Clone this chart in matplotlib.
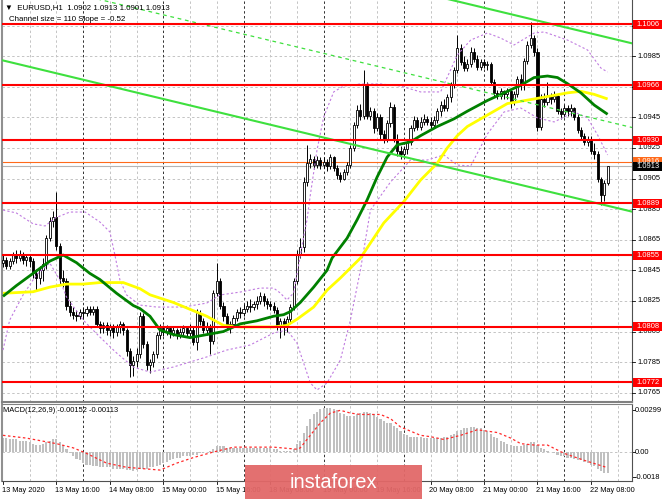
import matplotlib

matplotlib.use("Agg")
import matplotlib.pyplot as plt
import numpy as np
from matplotlib.patches import Rectangle
from matplotlib.transforms import blended_transform_factory

plt.rcParams["font.family"] = ["Liberation Sans", "DejaVu Sans"]

W, H = 665, 499

# EURUSD H1 candles, bar 0 = 13 May 00:00, bar 181 = 22 May 13:00
opens = [
    1.0850, 1.0852, 1.0848, 1.0851, 1.0855, 1.0853, 1.0856, 1.0852, 1.0854, 1.0851,
    1.0843, 1.0840, 1.0845, 1.0849, 1.0866, 1.0877, 1.0880, 1.0861, 1.0840, 1.0838,
    1.0822, 1.0818, 1.0816, 1.0815, 1.0818, 1.0817, 1.0820, 1.0818, 1.0820, 1.0810,
    1.0807, 1.0809, 1.0806, 1.0808, 1.0805, 1.0808, 1.0810, 1.0806, 1.0792, 1.0783,
    1.0786, 1.0790, 1.0815, 1.0797, 1.0783, 1.0785, 1.0790, 1.0803, 1.0807, 1.0805,
    1.0807, 1.0804, 1.0806, 1.0803, 1.0805, 1.0807, 1.0804, 1.0806, 1.0798, 1.0817,
    1.0812, 1.0806, 1.0808, 1.0799, 1.0830, 1.0838, 1.0822, 1.0815, 1.0808, 1.0810,
    1.0814, 1.0818, 1.0817, 1.0820, 1.0822, 1.0821, 1.0823, 1.0825, 1.0828, 1.0825,
    1.0823, 1.0822, 1.0819, 1.0809, 1.0812, 1.0808, 1.0813, 1.0821, 1.0838, 1.0856,
    1.0860, 1.0903, 1.0915, 1.0918, 1.0914, 1.0917, 1.0914, 1.0916, 1.0913, 1.0919,
    1.0912, 1.0907, 1.0905, 1.0909, 1.0914, 1.0925, 1.0940, 1.0950, 1.0946, 1.0966,
    1.0946, 1.0949, 1.0938, 1.0945, 1.0934, 1.0931, 1.0941, 1.0952, 1.0931, 1.0923,
    1.0921, 1.0924, 1.0929, 1.0938, 1.0943, 1.0939, 1.0942, 1.0944, 1.0942, 1.0940,
    1.0943, 1.0949, 1.0953, 1.0951, 1.0958, 1.0966, 1.0976, 1.0990, 1.0981, 1.0977,
    1.0980, 1.0988, 1.0983, 1.0978, 1.0981, 1.0979, 1.0980, 1.0968, 1.0961, 1.0959,
    1.0962, 1.0960, 1.0962, 1.0955, 1.0960, 1.0970, 1.0966, 1.0982, 1.0992, 1.0997,
    1.0988, 1.0939, 1.0957, 1.0955, 1.0959, 1.0957, 1.0959, 1.0949, 1.0947, 1.0951,
    1.0949, 1.0951, 1.0945, 1.0937, 1.0933, 1.0929, 1.0931, 1.0923, 1.0921, 1.0905,
    1.0894, 1.0902,
]
highs = [
    1.0855, 1.0854, 1.0853, 1.0857, 1.0858, 1.0858, 1.0857, 1.0856, 1.0856, 1.0853,
    1.0846, 1.0848, 1.0853, 1.0868, 1.0880, 1.0884, 1.0896, 1.0863, 1.0845, 1.0840,
    1.0825, 1.0821, 1.0819, 1.0820, 1.0821, 1.0822, 1.0822, 1.0822, 1.0822, 1.0812,
    1.0811, 1.0811, 1.0810, 1.0810, 1.0810, 1.0812, 1.0811, 1.0807, 1.0794, 1.0789,
    1.0794, 1.0818, 1.0817, 1.0799, 1.0787, 1.0792, 1.0805, 1.0810, 1.0809, 1.0809,
    1.0808, 1.0808, 1.0807, 1.0807, 1.0809, 1.0808, 1.0810, 1.0808, 1.0820, 1.0819,
    1.0814, 1.0811, 1.0810, 1.0832, 1.0850, 1.0840, 1.0824, 1.0817, 1.0812, 1.0816,
    1.0820, 1.0821, 1.0823, 1.0825, 1.0826, 1.0825, 1.0828, 1.0831, 1.0830, 1.0827,
    1.0825, 1.0824, 1.0821, 1.0814, 1.0814, 1.0815, 1.0823, 1.0840, 1.0858, 1.0866,
    1.0906, 1.0927, 1.0921, 1.0920, 1.0920, 1.0919, 1.0919, 1.0918, 1.0921, 1.0920,
    1.0914, 1.0909, 1.0911, 1.0916, 1.0927, 1.0942, 1.0953, 1.0954, 1.0976, 1.0968,
    1.0952, 1.0951, 1.0948, 1.0947, 1.0937, 1.0943, 1.0955, 1.0954, 1.0934, 1.0926,
    1.0926, 1.0931, 1.0940, 1.0946, 1.0945, 1.0945, 1.0947, 1.0946, 1.0945, 1.0946,
    1.0951, 1.0956, 1.0957, 1.0960, 1.0968, 1.0978, 1.0999, 1.0993, 1.0985, 1.0983,
    1.0991, 1.0990, 1.0986, 1.0983, 1.0983, 1.0982, 1.0981, 1.0970, 1.0963, 1.0964,
    1.0963, 1.0964, 1.0963, 1.0962, 1.0972, 1.0973, 1.0984, 1.0995, 1.1007, 1.0999,
    1.0990, 1.0960, 1.0961, 1.0968, 1.0961, 1.0962, 1.0960, 1.0951, 1.0953, 1.0953,
    1.0954, 1.0952, 1.0947, 1.0939, 1.0935, 1.0933, 1.0933, 1.0928, 1.0923, 1.0906,
    1.0904, 1.0913,
]
lows = [
    1.0847, 1.0846, 1.0846, 1.0849, 1.0850, 1.0851, 1.0849, 1.0848, 1.0847, 1.0840,
    1.0832, 1.0836, 1.0838, 1.0846, 1.0864, 1.0873, 1.0858, 1.0836, 1.0834, 1.0819,
    1.0815, 1.0813, 1.0812, 1.0813, 1.0814, 1.0815, 1.0816, 1.0816, 1.0808, 1.0804,
    1.0804, 1.0803, 1.0802, 1.0801, 1.0802, 1.0804, 1.0803, 1.0789, 1.0775, 1.0776,
    1.0782, 1.0788, 1.0794, 1.0780, 1.0778, 1.0782, 1.0788, 1.0800, 1.0802, 1.0803,
    1.0801, 1.0802, 1.0800, 1.0801, 1.0803, 1.0802, 1.0802, 1.0796, 1.0793, 1.0809,
    1.0804, 1.0803, 1.0790, 1.0797, 1.0828, 1.0820, 1.0812, 1.0806, 1.0804, 1.0808,
    1.0812, 1.0814, 1.0815, 1.0818, 1.0818, 1.0819, 1.0820, 1.0823, 1.0822, 1.0820,
    1.0819, 1.0817, 1.0806, 1.0801, 1.0803, 1.0805, 1.0811, 1.0819, 1.0836, 1.0853,
    1.0857, 1.0900, 1.0912, 1.0911, 1.0912, 1.0911, 1.0912, 1.0910, 1.0911, 1.0910,
    1.0905, 1.0903, 1.0904, 1.0907, 1.0912, 1.0923, 1.0938, 1.0943, 1.0944, 1.0944,
    1.0943, 1.0935, 1.0936, 1.0931, 1.0928, 1.0929, 1.0939, 1.0929, 1.0920, 1.0918,
    1.0919, 1.0921, 1.0927, 1.0936, 1.0937, 1.0937, 1.0940, 1.0940, 1.0938, 1.0938,
    1.0941, 1.0946, 1.0949, 1.0949, 1.0955, 1.0964, 1.0974, 1.0979, 1.0975, 1.0975,
    1.0978, 1.0981, 1.0976, 1.0976, 1.0977, 1.0976, 1.0966, 1.0959, 1.0957, 1.0957,
    1.0957, 1.0957, 1.0951, 1.0953, 1.0958, 1.0963, 1.0963, 1.0980, 1.0990, 1.0985,
    1.0936, 1.0937, 1.0952, 1.0953, 1.0954, 1.0955, 1.0947, 1.0944, 1.0945, 1.0946,
    1.0946, 1.0943, 1.0935, 1.0930, 1.0927, 1.0926, 1.0921, 1.0918, 1.0903, 1.0888,
    1.0890, 1.0901,
]
closes = [
    1.0852, 1.0848, 1.0851, 1.0855, 1.0853, 1.0856, 1.0852, 1.0854, 1.0851, 1.0843,
    1.0840, 1.0845, 1.0849, 1.0866, 1.0877, 1.0880, 1.0861, 1.0840, 1.0838, 1.0822,
    1.0818, 1.0816, 1.0815, 1.0818, 1.0817, 1.0820, 1.0818, 1.0820, 1.0810, 1.0807,
    1.0809, 1.0806, 1.0808, 1.0805, 1.0808, 1.0810, 1.0806, 1.0792, 1.0783, 1.0786,
    1.0790, 1.0815, 1.0797, 1.0783, 1.0785, 1.0790, 1.0803, 1.0807, 1.0805, 1.0807,
    1.0804, 1.0806, 1.0803, 1.0805, 1.0807, 1.0804, 1.0806, 1.0798, 1.0817, 1.0812,
    1.0806, 1.0808, 1.0799, 1.0830, 1.0838, 1.0822, 1.0815, 1.0808, 1.0810, 1.0814,
    1.0818, 1.0817, 1.0820, 1.0822, 1.0821, 1.0823, 1.0825, 1.0828, 1.0825, 1.0823,
    1.0822, 1.0819, 1.0809, 1.0812, 1.0808, 1.0813, 1.0821, 1.0838, 1.0856, 1.0860,
    1.0903, 1.0915, 1.0918, 1.0914, 1.0917, 1.0914, 1.0916, 1.0913, 1.0919, 1.0912,
    1.0907, 1.0905, 1.0909, 1.0914, 1.0925, 1.0940, 1.0950, 1.0946, 1.0966, 1.0946,
    1.0949, 1.0938, 1.0945, 1.0934, 1.0931, 1.0941, 1.0952, 1.0931, 1.0923, 1.0921,
    1.0924, 1.0929, 1.0938, 1.0943, 1.0939, 1.0942, 1.0944, 1.0942, 1.0940, 1.0943,
    1.0949, 1.0953, 1.0951, 1.0958, 1.0966, 1.0976, 1.0990, 1.0981, 1.0977, 1.0980,
    1.0988, 1.0983, 1.0978, 1.0981, 1.0979, 1.0980, 1.0968, 1.0961, 1.0959, 1.0962,
    1.0960, 1.0962, 1.0955, 1.0960, 1.0970, 1.0966, 1.0982, 1.0992, 1.0997, 1.0988,
    1.0939, 1.0957, 1.0955, 1.0959, 1.0957, 1.0959, 1.0949, 1.0947, 1.0951, 1.0949,
    1.0951, 1.0945, 1.0937, 1.0933, 1.0929, 1.0931, 1.0923, 1.0921, 1.0905, 1.0894,
    1.0902, 1.0913,
]

# moving averages (bar index, price)
green_ma_i = [0, 4, 9, 14, 18, 22, 26, 29, 34, 39, 41, 44, 47, 51, 56, 61, 66, 71,
              76, 81, 84, 86, 89, 93, 97, 98.5, 103, 106, 109, 112, 115, 118, 122,
              125, 130, 135, 139, 145, 151, 155, 159, 163, 166, 169, 173, 177, 181]
green_ma = [1.0828, 1.0835, 1.0843, 1.0851, 1.0855, 1.0850, 1.0843, 1.0839, 1.0830,
            1.0822, 1.0820, 1.0815, 1.0806, 1.0803, 1.0801, 1.0803, 1.0805, 1.0810,
            1.0812, 1.0815, 1.0816, 1.0818, 1.0824, 1.0834, 1.0845, 1.0853, 1.0866,
            1.0878, 1.0891, 1.0906, 1.0919, 1.0927, 1.0929, 1.0933, 1.0939, 1.0944,
            1.0949, 1.0956, 1.0962, 1.0966, 1.0971, 1.0972, 1.0971, 1.0967, 1.0961,
            1.0953, 1.0947]
yellow_ma_i = [0, 9, 14, 19, 24, 29, 36, 41, 44, 51, 61, 66, 71, 81, 85, 88, 93, 97,
               101, 107, 114, 120, 125, 130, 133, 136, 139, 143, 151, 159, 169, 173,
               177, 181]
yellow_ma = [1.0830, 1.0831, 1.0834, 1.0836, 1.0836, 1.0837, 1.0837, 1.0833, 1.0829,
             1.0824, 1.0815, 1.0809, 1.0808, 1.0808, 1.0809, 1.0813, 1.0821, 1.0832,
             1.0840, 1.0853, 1.0876, 1.0890, 1.0904, 1.0915, 1.0925, 1.0933, 1.0939,
             1.0944, 1.0954, 1.0957, 1.0961, 1.0962, 1.0960, 1.0957]

# purple dotted bands (bar index, price)
band_up_i = [0, 4, 9, 12.6, 15.6, 20, 24.6, 29, 32, 33.5, 35, 37, 41, 46, 54, 61,
             65, 71, 77, 81, 83, 85, 87, 90, 91, 92, 94, 96, 99, 102, 107, 113, 119,
             125, 131, 136, 140, 145, 149, 153, 159, 162, 169, 175, 179, 181]
band_up = [1.08844, 1.08825, 1.08754, 1.08740, 1.08792, 1.08831, 1.08831, 1.08766,
           1.08701, 1.08550, 1.08387, 1.08289, 1.08223, 1.08210, 1.08210, 1.08236,
           1.08289, 1.08308, 1.08334, 1.08334, 1.08302, 1.08256, 1.08302, 1.08668,
           1.08779, 1.08942, 1.09236, 1.09452, 1.09616, 1.09655, 1.09668, 1.09668,
           1.09655, 1.09616, 1.09616, 1.09857, 1.09955, 1.10001, 1.09968, 1.09923,
           1.10001, 1.10008, 1.09955, 1.09890, 1.09772, 1.09746]
band_dn_i = [0, 2, 6, 10, 14, 17, 19, 24, 29, 34, 39, 44, 51, 61, 67, 74, 81, 85,
             88, 90, 92, 94, 97, 101, 104, 107, 110, 116, 122, 127, 132, 136, 140,
             145, 150, 155, 160, 165, 171, 175, 178, 181]
band_dn = [1.07929, 1.08125, 1.08289, 1.08420, 1.08498, 1.08387, 1.08276, 1.08125,
           1.08014, 1.07910, 1.07818, 1.07785, 1.07818, 1.07884, 1.07929, 1.07962,
           1.08040, 1.08060, 1.07975, 1.07844, 1.07714, 1.07668, 1.07714, 1.07864,
           1.08125, 1.08452, 1.08844, 1.09027, 1.09171, 1.09171, 1.09204, 1.09138,
           1.09132, 1.09341, 1.09485, 1.09511, 1.09446, 1.09420, 1.09485, 1.09446,
           1.09335, 1.09204]

# regression channel: middle line end points, half width (size 110 points)
channel_i = [-1.0, 189.0]
channel_mid = [1.10377, 1.09380]
channel_half = 0.0055

levels = [1.1006, 1.0966, 1.0930, 1.0889, 1.0855, 1.0808, 1.0772]
bid_price = 1.0913
ask_price = 1.0916
price_ticks = [1.0765, 1.0785, 1.0805, 1.0825, 1.0845, 1.0865, 1.0885, 1.0905,
               1.0925, 1.0945, 1.0965, 1.0985, 1.1005]

# MACD main (histogram) in units of 0.0001
macd_hist = [
    10, 10, 9, 9, 9, 8, 8, 8, 7, 6,
    5, 5, 6, 7, 8, 9, 9, 7, 5, 2,
    -1, -3, -5, -6, -8, -9, -9, -10, -10, -11,
    -11, -11, -11, -12, -12, -12, -12, -13, -13, -14,
    -13, -12, -12, -12, -11, -11, -10, -9, -8, -7,
    -6, -5, -4, -4, -3, -3, -3, -2, -2, -1,
    -1, 0.3, 1, 2, 4, 4, 4, 3, 3, 3,
    3, 3, 3, 3, 3, 3, 3, 3, 3, 3,
    3, 2, 2, 1, 1, 1, 1, 2, 6, 8,
    14, 19, 24, 27, 29, 31, 32, 32, 32, 31,
    30, 28, 27, 26, 26, 26, 27, 28, 29, 29,
    28, 27, 25, 24, 22, 21, 21, 19, 17, 15,
    13, 12, 11, 11, 11, 11, 10, 10, 10, 10,
    10, 10, 11, 11, 12, 13, 15, 16, 17, 17,
    18, 18, 17, 17, 16, 15, 13, 11, 10, 8,
    7, 6, 5, 4, 4, 4, 5, 6, 7, 7,
    5, 3, 2, 1, 0.3, -1, -2, -3, -3, -4,
    -4, -5, -6, -6, -7, -8, -9, -10, -12, -14,
    -15, -15.2,
]
signal_i = [0, 7, 16, 21, 25, 31, 37, 47, 52, 57, 63, 69, 81, 88, 89, 92, 95, 98,
            101, 104, 107, 110, 113, 116, 119, 122, 125, 128, 132, 137, 142, 148,
            152, 155, 159, 163, 168, 174, 181]
signal_v = [12, 10, 6, 3, -1, -8, -11, -13, -8, -4, 0, 3.5, 3.5, 2, 3, 12, 21, 28,
            30, 28, 27, 27, 27, 24, 18, 15, 12, 11, 9, 12, 16, 14, 10, 6, 5, 5, -1,
            -6, -11.3]

time_tick_i = [0, 16, 32, 48, 64, 80, 96, 112, 128, 144, 160, 176]
time_labels = ["13 May 2020", "13 May 16:00", "14 May 08:00", "15 May 00:00",
               "15 May 16:00", "18 May 08:00", "19 May 00:00", "19 May 16:00",
               "20 May 08:00", "21 May 00:00", "21 May 16:00", "22 May 08:00"]


def px_rect(left, top, right, bottom):
    return [left / W, 1 - bottom / H, (right - left) / W, (bottom - top) / H]


fig = plt.figure(figsize=(W / 100, H / 100), dpi=100)
fig.patch.set_facecolor("white")

ax = fig.add_axes(px_rect(2, 0, 632, 402))
axm = fig.add_axes(px_rect(2, 404, 632, 481))

XMIN, XMAX = -0.3, 188.3
ax.set_xlim(XMIN, XMAX)
axm.set_xlim(XMIN, XMAX)
ax.set_ylim(1.075894, 1.102169)
axm.set_ylim(-0.002086, 0.003453)

for a in (ax, axm):
    a.set_xticks([])
    a.set_yticks([])
    a.set_facecolor("white")
    a.spines["left"].set_color("#909090")
    a.spines["left"].set_linewidth(1.5)
    a.spines["right"].set_color("#505050")
    a.spines["right"].set_linewidth(0.8)
ax.spines["top"].set_visible(False)
ax.spines["bottom"].set_color("#808080")
ax.spines["bottom"].set_linewidth(1.5)
axm.spines["top"].set_color("#808080")
axm.spines["top"].set_linewidth(0.8)
axm.spines["bottom"].set_color("#505050")
axm.spines["bottom"].set_linewidth(0.8)

# grid and period separators
for k in range(1, 24):
    gi = 8 * k
    for a in (ax, axm):
        if gi % 24 == 0:
            a.axvline(gi, color="#303030", lw=0.7, ls=(0, (2.5, 2.5)), zorder=0.6)
        else:
            a.axvline(gi, color="#c4c4c4", lw=0.7, ls=(0, (2.5, 2.5)), zorder=0.5)
for p in price_ticks:
    ax.axhline(p, color="#c4c4c4", lw=0.7, ls=(0, (2.5, 2.5)), zorder=0.5)
axm.axhline(0.0, color="#c4c4c4", lw=0.7, ls=(0, (2.5, 2.5)), zorder=0.5)

# bid / ask lines
ax.axhline(bid_price, color="#b4b4b4", lw=0.8, zorder=1)
ax.axhline(ask_price, color="#ff6a1a", lw=0.8, zorder=1)

# candles
idx = np.arange(len(closes))
o = np.array(opens)
c = np.array(closes)
hi = np.array(highs)
lo = np.array(lows)
bull = c >= o
body_lo = np.minimum(o, c)
body_h = np.maximum(np.abs(c - o), 0.00004)
ax.vlines(idx, lo, hi, color="black", lw=0.7, zorder=3)
ax.bar(idx[bull], body_h[bull], bottom=body_lo[bull], width=0.62,
       facecolor="white", edgecolor="black", lw=0.6, zorder=4)
ax.bar(idx[~bull], body_h[~bull], bottom=body_lo[~bull], width=0.62,
       facecolor="black", edgecolor="black", lw=0.6, zorder=4)

# indicators
band_style = dict(color="#c07ce0", lw=0.8, ls=(0, (2, 2)), zorder=5)
ax.plot(band_up_i, band_up, **band_style)
ax.plot(band_dn_i, band_dn, **band_style)
ax.plot(yellow_ma_i, yellow_ma, color="#ffff00", lw=2.0, zorder=6, solid_capstyle="butt")
ax.plot(green_ma_i, green_ma, color="#008000", lw=2.0, zorder=6, solid_capstyle="butt")

mid = np.array(channel_mid)
ax.plot(channel_i, mid, color="#3ee03e", lw=0.9, ls=(0, (3, 3)), zorder=7)
ax.plot(channel_i, mid + channel_half, color="#3ee03e", lw=1.5, zorder=7)
ax.plot(channel_i, mid - channel_half, color="#3ee03e", lw=1.5, zorder=7)

for lv in levels:
    ax.axhline(lv, color="#ff0000", lw=1.5, zorder=8)

# right price scale
trans = blended_transform_factory(fig.transFigure, ax.transData)
tick_trans = blended_transform_factory(ax.transAxes, ax.transData)
for p in price_ticks:
    ax.plot([1.0, 1.005], [p, p], color="black", lw=0.6, transform=tick_trans,
            clip_on=False, zorder=9)
    ax.text(637 / W, p, f"{p:.4f}", transform=trans, fontsize=5.4, va="center",
            ha="left", color="black", clip_on=False, zorder=9)

box_h = 9 / 15300.0


def price_box(price, face, text_color="white"):
    ax.add_patch(Rectangle((633 / W, price - box_h / 2), 29 / W, box_h,
                           transform=trans, facecolor=face, edgecolor="none",
                           clip_on=False, zorder=10))
    ax.text(636.5 / W, price, f"{price:.4f}", transform=trans, fontsize=5.4,
            va="center", ha="left", color=text_color, clip_on=False, zorder=11)


for lv in levels:
    price_box(lv, "#ff0000")
price_box(ask_price, "#ff6a1a")
price_box(bid_price, "black")

# header texts
fig.text(5 / W, 1 - 8 / H, "\u25bc  EURUSD,H1  1.0902 1.0913 1.0901 1.0913",
         fontsize=5.7, va="center", ha="left", color="black")
fig.text(9 / W, 1 - 19.5 / H, "Channel size = 110 Slope = -0.52",
         fontsize=5.7, va="center", ha="left", color="black")

# MACD panel
axm.bar(idx, np.array(macd_hist) * 1e-4, width=0.62, color="#c0c0c0", zorder=2)
axm.plot(signal_i, np.array(signal_v) * 1e-4, color="#ff2a2a", lw=0.9,
         ls=(0, (2, 2)), zorder=3)
fig.text(3 / W, 1 - 410 / H, "MACD(12,26,9) -0.00152 -0.00113", fontsize=5.4,
         va="center", ha="left", color="black")
mtrans = blended_transform_factory(fig.transFigure, axm.transData)
mtick = blended_transform_factory(axm.transAxes, axm.transData)
for val, lab in [(0.00299, "0.00299"), (0.0, "0.00"), (-0.0018, "-0.0018")]:
    axm.plot([1.0, 1.005], [val, val], color="black", lw=0.6, transform=mtick,
             clip_on=False)
    axm.text(635 / W, val, lab, transform=mtrans, fontsize=5.4, va="center",
             ha="left", color="black", clip_on=False)

# time axis
xtrans = blended_transform_factory(axm.transData, fig.transFigure)
for ti, lab in zip(time_tick_i, time_labels):
    axm.plot([ti, ti], [1 - 481 / H, 1 - 484 / H], color="black", lw=0.6,
             transform=xtrans, clip_on=False)
    axm.text(ti - 0.35, 1 - 490.5 / H, lab, transform=xtrans, fontsize=5.3,
             va="center", ha="left", color="black", clip_on=False)

# watermark
fig.patches.append(Rectangle((245 / W, 0), 177 / W, 34 / H, transform=fig.transFigure,
                             facecolor="#e26868", edgecolor="none", alpha=0.95,
                             zorder=20))
fig.text(333 / W, 1 - 482 / H, "instaforex", fontsize=14.5, color="white",
         ha="center", va="center", zorder=21)

fig.savefig("out.png", dpi=100, facecolor="white")
